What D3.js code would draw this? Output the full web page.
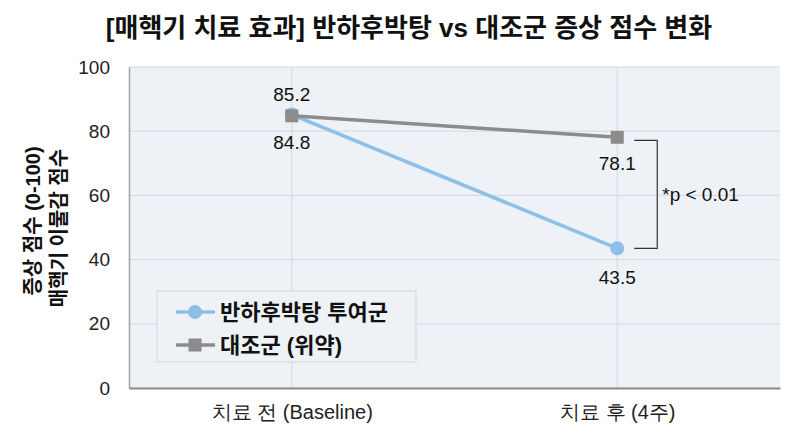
<!DOCTYPE html>
<html>
<head>
<meta charset="utf-8">
<script src="https://cdn.jsdelivr.net/npm/d3@7"></script>
<style>
  body { margin: 0; background: #fff; }
  svg { display: block; font-family: "Liberation Sans", "Noto Sans CJK KR", sans-serif; }
</style>
</head>
<body>
<div id="chart"></div>
<script>
// data
const categories = ["치료 전 (Baseline)", "치료 후 (4주)"];
const seriesNames = ["반하후박탕 투여군", "대조군 (위약)"];
const treatValues = [85.2, 43.5];
const placeboValues = [84.8, 78.1];
const yTicks = [0, 20, 40, 60, 80, 100];
const pLabel = "*p < 0.01";

const width = 800;
const height = 436;
const margin = { top: 67, right: 20, bottom: 48, left: 129 };

const blue = "#8cc0e8";
const grey = "#8c8c8c";

const svg = d3.select("#chart").append("svg")
  .attr("width", width)
  .attr("height", height);

const x = d3.scalePoint()
  .domain(categories)
  .range([margin.left, width - margin.right])
  .padding(0.5);

const y = d3.scaleLinear()
  .domain([0, 100])
  .range([height - margin.bottom, margin.top]);

// plot background
svg.append("rect")
  .attr("x", margin.left)
  .attr("y", margin.top)
  .attr("width", width - margin.right - margin.left)
  .attr("height", y(0) - margin.top)
  .attr("fill", "#eef1f6");

// grid
svg.append("g")
  .selectAll("line")
  .data(yTicks)
  .join("line")
  .attr("x1", margin.left)
  .attr("x2", width - margin.right)
  .attr("y1", d => y(d))
  .attr("y2", d => y(d))
  .attr("stroke", "#d5d8de")
  .attr("stroke-width", 1);

svg.append("g")
  .selectAll("line")
  .data(categories)
  .join("line")
  .attr("x1", d => x(d))
  .attr("x2", d => x(d))
  .attr("y1", margin.top)
  .attr("y2", y(0))
  .attr("stroke", "#d5d8de")
  .attr("stroke-width", 1);

// axes
const yAxis = svg.append("g")
  .attr("transform", `translate(${margin.left},0)`)
  .call(d3.axisLeft(y).tickValues(yTicks).tickSize(0).tickPadding(19));
yAxis.select(".domain").attr("stroke", "#a0a0a0").attr("stroke-width", 1.5);
yAxis.selectAll("text").attr("font-size", 19).attr("fill", "#222");

const xAxis = svg.append("g")
  .attr("transform", `translate(0,${y(0)})`)
  .call(d3.axisBottom(x).tickSize(0).tickPadding(17));
xAxis.select(".domain").attr("stroke", "#8a8a8a").attr("stroke-width", 2);
xAxis.selectAll("text").attr("font-size", 20).attr("fill", "#222");

// title
svg.append("text")
  .attr("x", 409)
  .attr("y", 37)
  .attr("text-anchor", "middle")
  .attr("font-size", 26)
  .attr("font-weight", "bold")
  .attr("fill", "#111")
  .text("[매핵기 치료 효과] 반하후박탕 vs 대조군 증상 점수 변화");

// y labels
const yl = svg.append("g")
  .attr("font-size", 20)
  .attr("font-weight", "bold")
  .attr("fill", "#111")
  .attr("text-anchor", "middle");
yl.append("text")
  .attr("transform", "translate(40,221) rotate(-90)")
  .text("증상 점수 (0-100)");
yl.append("text")
  .attr("transform", "translate(66,228) rotate(-90)")
  .text("매핵기 이물감 점수");

// lines
const line = d3.line().x((d, i) => x(categories[i])).y(d => y(d));

svg.append("path")
  .datum(treatValues)
  .attr("d", line)
  .attr("fill", "none")
  .attr("stroke", blue)
  .attr("stroke-width", 3.5);

svg.append("g")
  .selectAll("circle")
  .data(treatValues)
  .join("circle")
  .attr("cx", (d, i) => x(categories[i]))
  .attr("cy", d => y(d))
  .attr("r", 7)
  .attr("fill", blue);

svg.append("path")
  .datum(placeboValues)
  .attr("d", line)
  .attr("fill", "none")
  .attr("stroke", grey)
  .attr("stroke-width", 3.5);

svg.append("g")
  .selectAll("rect")
  .data(placeboValues)
  .join("rect")
  .attr("x", (d, i) => x(categories[i]) - 6.5)
  .attr("y", d => y(d) - 6.5)
  .attr("width", 13)
  .attr("height", 13)
  .attr("fill", grey);

// value labels
const labels = svg.append("g")
  .attr("font-size", 19)
  .attr("fill", "#111")
  .attr("text-anchor", "middle");

labels.selectAll(".t")
  .data(treatValues)
  .join("text")
  .attr("x", (d, i) => x(categories[i]))
  .attr("y", (d, i) => i === 0 ? y(d) - 14 : y(d) + 36)
  .text(d => d.toFixed(1));

labels.selectAll(".p")
  .data(placeboValues)
  .join("text")
  .attr("x", (d, i) => x(categories[i]))
  .attr("y", d => y(d) + 33)
  .text(d => d.toFixed(1));

// significance bracket
const bx = x(categories[1]);
const yTop = y(placeboValues[1]) + 3;
const yBot = y(treatValues[1]);
svg.append("path")
  .attr("d", `M${bx + 17},${yTop}H${bx + 40}V${yBot}H${bx + 17}`)
  .attr("fill", "none")
  .attr("stroke", "#333")
  .attr("stroke-width", 1.2);

svg.append("text")
  .attr("x", bx + 45)
  .attr("y", (yTop + yBot) / 2 + 7)
  .attr("font-size", 19)
  .attr("fill", "#111")
  .text(pLabel);

// legend
const legend = svg.append("g").attr("transform", "translate(157,291)");
legend.append("rect")
  .attr("width", 259)
  .attr("height", 71)
  .attr("fill", "#eef1f6")
  .attr("stroke", "#d2d5da")
  .attr("stroke-width", 1);

const rows = legend.selectAll(".row")
  .data(seriesNames)
  .join("g")
  .attr("transform", (d, i) => `translate(0,${21 + i * 33})`);

rows.append("line")
  .attr("x1", 19)
  .attr("x2", 58)
  .attr("stroke", (d, i) => i === 0 ? blue : grey)
  .attr("stroke-width", 3.5);

rows.filter((d, i) => i === 0).append("circle")
  .attr("cx", 38)
  .attr("r", 7)
  .attr("fill", blue);

rows.filter((d, i) => i === 1).append("rect")
  .attr("x", 31.5)
  .attr("y", -6.5)
  .attr("width", 13)
  .attr("height", 13)
  .attr("fill", grey);

rows.append("text")
  .attr("x", 63)
  .attr("y", 8)
  .attr("font-size", 22)
  .attr("font-weight", "bold")
  .attr("fill", "#111")
  .text(d => d);
</script>
</body>
</html>
